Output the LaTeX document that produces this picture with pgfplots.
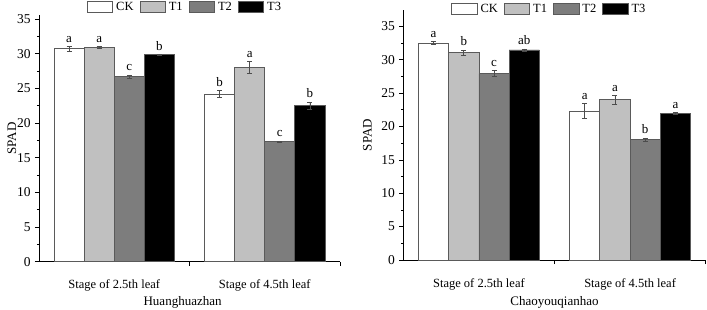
\documentclass[border=0pt]{standalone}
\usepackage{fontspec}
\setmainfont{Liberation Serif}
\usepackage{pgfplots}
\usepackage{pgfplotstable}
\pgfplotsset{compat=1.18}

\pgfplotstableread{
x CK eCK lCK T1 eT1 lT1 T2 eT2 lT2 T3 eT3 lT3
1 30.70 0.30 a 30.95 0.15 a 26.70 0.25 c 29.85 0.08 b
2 24.15 0.50 b 28.00 0.85 a 17.35 0.08 c 22.55 0.50 b
}\hhz

\pgfplotstableread{
x CK eCK lCK T1 eT1 lT1 T2 eT2 lT2 T3 eT3 lT3
1 32.50 0.25 a 31.05 0.40 b 27.90 0.45 c 31.45 0.15 ab
2 22.30 1.15 a 24.00 0.70 a 18.05 0.25 b 21.90 0.15 a
}\cyq

\definecolor{cT1}{RGB}{192,192,192}
\definecolor{cT2}{RGB}{125,125,125}
\definecolor{edge}{RGB}{90,90,90}

\pgfplotsset{
  common/.style={
    scale only axis,
    ybar=0pt, bar width=0.2,
    axis lines=left,
    axis line style={-, line width=0.6bp},
    xmin=0.5, xmax=2.5, ymin=0,
    xtick={1,2},
    xticklabels={Stage of 2.5th leaf, Stage of 4.5th leaf},
    major x tick style={draw=none},
    extra x ticks={1.5,2.5},
    extra x tick labels={},
    extra x tick style={major tick length=4bp, tick align=outside, major x tick style={draw=black, line width=0.6bp}},
    ytick={0,5,...,35},
    minor y tick num=1,
    ytick pos=left,
    tick align=outside,
    major tick length=4bp,
    minor tick length=2bp,
    every tick/.style={black, line width=0.6bp},
    /pgf/number format/assume math mode=true,
    yticklabel style={font=\fontsize{13.5bp}{15bp}\selectfont},
    xticklabel style={font=\fontsize{12.5bp}{14bp}\selectfont, anchor=center, yshift=-20bp},
    label style={font=\fontsize{13bp}{15bp}\selectfont},
    clip=false,
    legend columns=4,
    legend style={draw=none, fill=none, font=\fontsize{12.5bp}{14bp}\selectfont,
      /tikz/every even column/.append style={column sep=4bp},
      /tikz/every odd column/.append style={column sep=1bp}},
  },
  leg/.style={legend image code/.code={\draw[line width=0.8bp, draw=edge, fill=#1] (0bp,-5.3bp) rectangle (25.5bp,5.3bp);}},
  sbar/.style n args={3}{
    bar shift=#1, fill=#2, draw=edge, line width=0.8bp, forget plot,
    nodes near coords, point meta=explicit symbolic,
    visualization depends on={\thisrow{#3}\as\myerr},
    every node near coord/.append style={shift={(axis direction cs:0,\myerr)}, text=black,
      font=\fontsize{13bp}{15bp}\selectfont, inner sep=3.5bp},
    error bars/.cd, y dir=both, y explicit,
    error bar style={draw=black!70, line width=0.6bp},
    error mark options={rotate=90, mark size=2.5bp, draw=black!70, line width=0.6bp},
  },
}

\begin{document}
\fontsize{12.5bp}{14bp}\selectfont
\begin{tikzpicture}
\path[use as bounding box] (0,0) rectangle (707bp,310bp);

\begin{axis}[common,
  at={(39bp,48.3bp)}, anchor=south west,
  width=301bp, height=246.7bp, ymax=35.58,
  ylabel={SPAD},
  ylabel style={at={(axis description cs:-0.09,0.5)}, anchor=center},
  xlabel={Huanghuazhan},
  xlabel style={at={(axis description cs:0.477,-0.166)}, anchor=center},
  legend style={at={(0.485,1.032)}, anchor=center},
]
\addplot[sbar={-0.3}{white}{eCK}] table[x=x, y=CK, y error=eCK, meta=lCK]{\hhz};
\addplot[sbar={-0.1}{cT1}{eT1}] table[x=x, y=T1, y error=eT1, meta=lT1]{\hhz};
\addplot[sbar={0.1}{cT2}{eT2}] table[x=x, y=T2, y error=eT2, meta=lT2]{\hhz};
\addplot[sbar={0.3}{black}{eT3}] table[x=x, y=T3, y error=eT3, meta=lT3]{\hhz};
\addlegendimage{leg=white}\addlegendentry{CK}
\addlegendimage{leg=cT1}\addlegendentry{T1}
\addlegendimage{leg=cT2}\addlegendentry{T2}
\addlegendimage{leg=black}\addlegendentry{T3}
\end{axis}

\begin{axis}[common,
  at={(403.3bp,50bp)}, anchor=south west,
  width=302.4bp, height=250bp, ymax=37.44,
  ylabel={SPAD},
  ylabel style={at={(axis description cs:-0.119,0.5)}, anchor=center},
  xlabel={Chaoyouqianhao},
  xlabel style={at={(axis description cs:0.5,-0.17)}, anchor=center},
  legend style={at={(0.483,1.004)}, anchor=center},
]
\addplot[sbar={-0.3}{white}{eCK}] table[x=x, y=CK, y error=eCK, meta=lCK]{\cyq};
\addplot[sbar={-0.1}{cT1}{eT1}] table[x=x, y=T1, y error=eT1, meta=lT1]{\cyq};
\addplot[sbar={0.1}{cT2}{eT2}] table[x=x, y=T2, y error=eT2, meta=lT2]{\cyq};
\addplot[sbar={0.3}{black}{eT3}] table[x=x, y=T3, y error=eT3, meta=lT3]{\cyq};
\addlegendimage{leg=white}\addlegendentry{CK}
\addlegendimage{leg=cT1}\addlegendentry{T1}
\addlegendimage{leg=cT2}\addlegendentry{T2}
\addlegendimage{leg=black}\addlegendentry{T3}
\end{axis}
\end{tikzpicture}
\end{document}
